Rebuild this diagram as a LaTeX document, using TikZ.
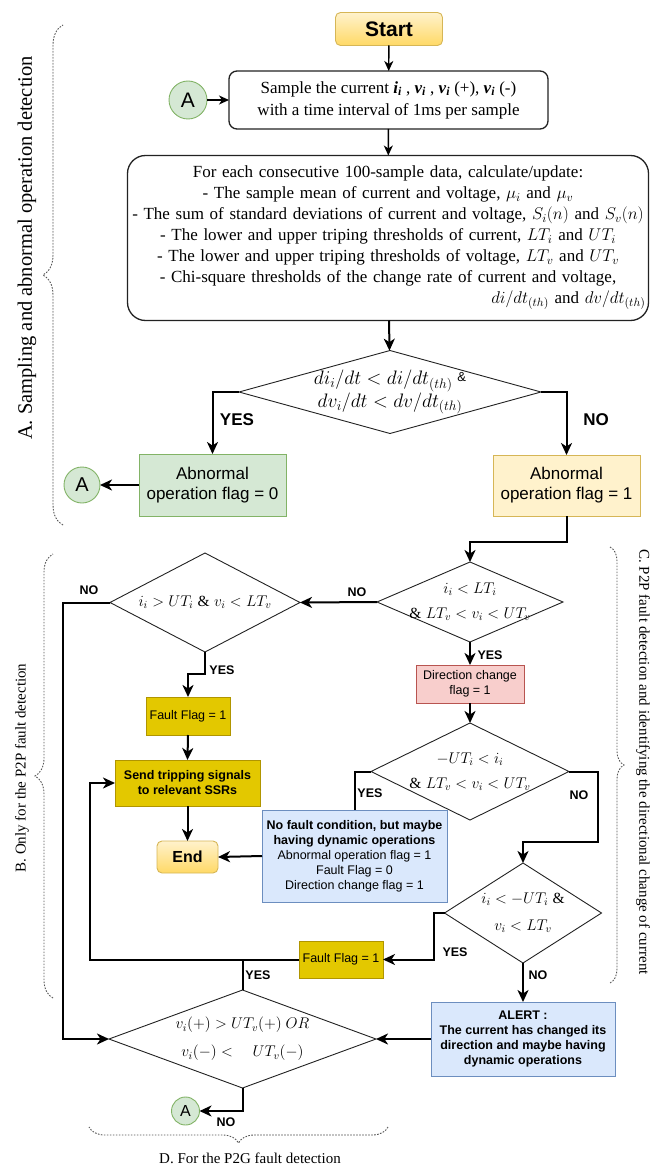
\RequirePackage{fix-cm}
\documentclass[tikz,border=0pt]{standalone}
\usepackage{fontspec}
\setmainfont{Liberation Serif}
\setsansfont{Liberation Sans}
\usetikzlibrary{arrows.meta,shapes.geometric,decorations.pathreplacing,calc}
\definecolor{ylwA}{HTML}{FFF2CC}
\definecolor{ylwB}{HTML}{FFD966}
\definecolor{ylwD}{HTML}{D6B656}
\definecolor{grnF}{HTML}{D5E8D4}
\definecolor{grnD}{HTML}{82B366}
\definecolor{redF}{HTML}{F8CECC}
\definecolor{redD}{HTML}{B85450}
\definecolor{golF}{HTML}{E3C800}
\definecolor{golD}{HTML}{B09500}
\definecolor{bluF}{HTML}{DAE8FC}
\definecolor{bluD}{HTML}{6C8EBF}
\definecolor{ink}{HTML}{222222}
\definecolor{brk}{HTML}{555555}
\newcommand\fsz[2]{\fontsize{#1}{#2}\selectfont}
\begin{document}
\begin{tikzpicture}[x=1pt,y=-1pt,
  every node/.style={inner sep=0pt,outer sep=0pt},
  arr/.style={draw=black,line width=2pt,-{Stealth[length=12pt,width=11pt,inset=3.5pt]}},
  arrthin/.style={draw=black,line width=1.4pt,-{Stealth[length=10pt,width=9pt,inset=3pt]}},
  ln/.style={draw=black,line width=2pt},
  dia/.style={diamond,draw=ink,line width=0.9pt,fill=white,inner sep=0pt},
  mtext/.style={align=center},
  termbox/.style={draw=ylwD,line width=0.9pt,rounded corners=5pt,top color=ylwA,bottom color=ylwB,font=\sffamily\bfseries},
  acirc/.style={circle,draw=grnD,fill=grnF,line width=0.9pt,font=\sffamily},
  procbox/.style={draw=ink,line width=1.3pt,fill=white,align=center},
  greenbox/.style={draw=grnD,fill=grnF,line width=0.9pt,align=center,font=\sffamily\fsz{17}{20}},
  yelbox/.style={draw=ylwD,fill=ylwA,line width=0.9pt,align=center,font=\sffamily\fsz{17}{20}},
  redbox/.style={draw=redD,fill=redF,line width=0.9pt,align=center,font=\sffamily\fsz{12.5}{15}},
  goldbox/.style={draw=golD,fill=golF,line width=0.9pt,align=center,font=\sffamily\fsz{12.5}{15}},
  bluebox/.style={draw=bluD,fill=bluF,line width=0.9pt,align=center,font=\sffamily\fsz{12.5}{15}},
  ylab/.style={font=\sffamily\bfseries\fsz{12.5}{14}},
  biglab/.style={font=\sffamily\bfseries\fsz{17}{19}},
  bracestyle/.style={draw=brk,line width=0.9pt,dash pattern=on 1.6pt off 1.4pt,decorate},
  bracetext/.style={font=\fsz{15}{17}}
]
\useasboundingbox (0,0) rectangle (664,1166);

% ---------- Part A ----------
\node[termbox,minimum width=107pt,minimum height=33pt,font=\sffamily\bfseries\fsz{21}{24}] (start) at (389,29) {Start};
\node[acirc,minimum size=38pt,font=\sffamily\fsz{21}{24}] (atop) at (188,100) {A};
\node[procbox,rounded corners=8pt,minimum width=319pt,minimum height=58pt,font=\fsz{17}{22}] (sample) at (388.5,100)
  {Sample the current \textbf{\textit{i\textsubscript{i}}} , \textbf{\textit{v\textsubscript{i}}} , \textbf{\textit{v\textsubscript{i}}} (+), \textbf{\textit{v\textsubscript{i}}} (-)\\
   with a time interval of 1ms per sample};
\node[procbox,rounded corners=18pt,minimum width=521pt,minimum height=165pt] (calc) at (388,238) {};
\node[text width=515pt,align=center,font=\fsz{17}{21}] (calctxt) at (388,238)
  {For each consecutive 100-sample data, calculate/update:\\
   - The sample mean of current and voltage, $\mu_i$ and $\mu_v$\\
   - The sum of standard deviations of current and voltage, $S_i(n)$ and $S_v(n)$\\
   - The lower and upper triping thresholds of current, $LT_i$ and $UT_i$\\
   - The lower and upper triping thresholds of voltage, $LT_v$ and $UT_v$\\
   - Chi-square thresholds of the change rate of current and voltage,\\
   \mbox{}\hfill$di/dt_{(th)}$ and $dv/dt_{(th)}$\hspace*{12pt}};

\node[dia,minimum width=302pt,minimum height=83pt] (d1) at (390,392) {};
\node[mtext,font=\fsz{19.5}{21}] at (d1) {$di_i/dt < di/dt_{(th)}$ \raisebox{3pt}{\sffamily\fsz{13}{14}\&}\\ $dv_i/dt < dv/dt_{(th)}$};
\node[greenbox,minimum width=147pt,minimum height=62pt] (ab0) at (212.5,485) {Abnormal\\operation flag = 0};
\node[acirc,minimum size=36pt,font=\sffamily\fsz{20}{22}] (aleft) at (82,485) {A};
\node[yelbox,minimum width=147pt,minimum height=61pt] (ab1) at (566.5,485.5) {Abnormal\\operation flag = 1};

% ---------- Parts B, C ----------
\node[dia,minimum width=186pt,minimum height=80pt] (d2) at (470,602) {};
\node[mtext,font=\fsz{15.5}{25}] at (d2) {$i_i < LT_i$\\ $\&\; LT_v < v_i < UT_v$};
\node[redbox,minimum width=108pt,minimum height=38pt] (dir) at (470,684) {Direction change\\flag = 1};
\node[dia,minimum width=198pt,minimum height=97pt] (d3) at (470,771.5) {};
\node[mtext,font=\fsz{15.5}{25}] at (d3) {$-UT_i < i_i$\\ $\&\; LT_v < v_i < UT_v$};

\node[dia,minimum width=190pt,minimum height=99pt] (db) at (205,602.5) {};
\node[mtext,font=\fsz{15.5}{25}] at (db) {$i_i > UT_i \;\&\; v_i < LT_v$};
\node[goldbox,minimum width=84pt,minimum height=38pt] (ff1) at (188,716) {Fault Flag = 1};
\node[goldbox,minimum width=145pt,minimum height=46pt,font=\sffamily\bfseries\fsz{12.5}{15}] (send) at (187.5,783) {Send tripping signals\\to relevant SSRs};
\node[termbox,minimum width=61pt,minimum height=32pt,font=\sffamily\bfseries\fsz{16}{18}] (fin) at (187.5,857) {End};
\node[bluebox,minimum width=185pt,minimum height=92pt] (nofault) at (354.5,856)
  {\textbf{No fault condition, but maybe}\\ \textbf{having dynamic operations}\\ Abnormal operation flag = 1\\ Fault Flag = 0\\ Direction change flag = 1};

\node[dia,minimum width=157pt,minimum height=100pt] (d4) at (523,913) {};
\node[mtext,font=\fsz{15.5}{27}] at (d4) {$i_i < -UT_i \;\&$\\ $v_i < LT_v$};
\node[goldbox,minimum width=84pt,minimum height=37pt] (ff2) at (341,959.5) {Fault Flag = 1};
\node[bluebox,minimum width=184pt,minimum height=74pt,font=\sffamily\bfseries\fsz{12.5}{15}] (alert) at (523,1039)
  {ALERT :\\ The current has changed its\\ direction and maybe having\\ dynamic operations};

% ---------- Part D ----------
\node[dia,minimum width=267pt,minimum height=98pt] (d5) at (242.5,1039) {};
\node[mtext,font=\fsz{15.5}{28}] at (d5) {$v_i(+) > UT_v(+)\ OR$\\ $v_i(-) <\quad UT_v(-)$};
\node[acirc,minimum size=28pt,font=\sffamily\fsz{16}{18}] (abot) at (185.5,1111) {A};

\coordinate (loopx) at (90,0);
\coordinate (nox) at (63,0);

% ---------- connectors ----------
\draw[arrthin] (start) -- (sample);
\draw[arrthin] (atop) -- (sample);
\draw[arrthin] (sample) -- (calc);
\draw[arr] (calc) -- (d1);
\draw[arr] (d1.west) -| (ab0.north);
\draw[arr] (d1.east) -| (ab1.north);
\draw[arr] (ab0.west) -- (aleft.east);
\draw[arr] (ab1.south) |- ($(d2.north)+(0,-20)$) -- (d2.north);
\draw[arr] (d2.west) -- (db.east);
\draw[arr] (d2.south) -- (dir.north);
\draw[arr] (dir.south) -- (d3.north);
\draw[arr] (db.south) -- ++(0,22) -| (ff1.north);
\draw[arr] (ff1.south) -- (send.north);
\draw[arr] (send.south) -- (fin.north);
\draw[ln] (d3.west) -| (nofault.north);
\draw[arr] (d3.east) -- ++(29,0) |- ($(d4.north)+(0,-21)$) -- (d4.north);
\draw[arr] (nofault.west) -- (fin.east);
\draw[arr] (d4.west) -- ++(-11,0) |- (ff2.east);
\draw[arr] (ff2.west) -- (ff2.west -| loopx) |- (send.west);
\draw[ln] (d5.north) -- (d5.north |- ff2.west);
\draw[arr] (db.west) -- (db.west -| nox) |- (d5.west);
\draw[arr] (alert.west) -- (d5.east);
\draw[arr] (d4.south) -- (alert.north);
\draw[arr] (d5.south) |- (abot.east);

% ---------- labels ----------
\node[biglab] at (237,420) {YES};
\node[biglab] at (596,420) {NO};
\node[ylab] at (357,592) {NO};
\node[ylab] at (490,655) {YES};
\node[ylab] at (89,590) {NO};
\node[ylab] at (222,670) {YES};
\node[ylab] at (370,793) {YES};
\node[ylab] at (579,795) {NO};
\node[ylab] at (455,952) {YES};
\node[ylab] at (538,975) {NO};
\node[ylab] at (258,975) {YES};
\node[ylab] at (226,1122) {NO};

% ---------- braces ----------
\draw[bracestyle,decoration={brace,amplitude=20pt}] (63,525) -- (63,25);
\node[rotate=90,font=\fsz{20.5}{22}] (ta) at (27,248) {A. Sampling and abnormal operation detection};
\draw[bracestyle,decoration={brace,amplitude=18pt}] (53,998) -- (53,554);
\node[rotate=90,bracetext] (tb) at (22,768) {B. Only for the P2P fault detection};
\draw[bracestyle,decoration={brace,amplitude=14pt}] (610,547) -- (610,983);
\node[rotate=-90,bracetext] (tc) at (643,762) {C. P2P fault detection and identifying the directional change of current};
\draw[bracestyle,decoration={brace,amplitude=16pt}] (388,1127) -- (89,1127);
\node[bracetext] (td) at (250,1158) {D. For the P2G fault detection};
\end{tikzpicture}
\end{document}
